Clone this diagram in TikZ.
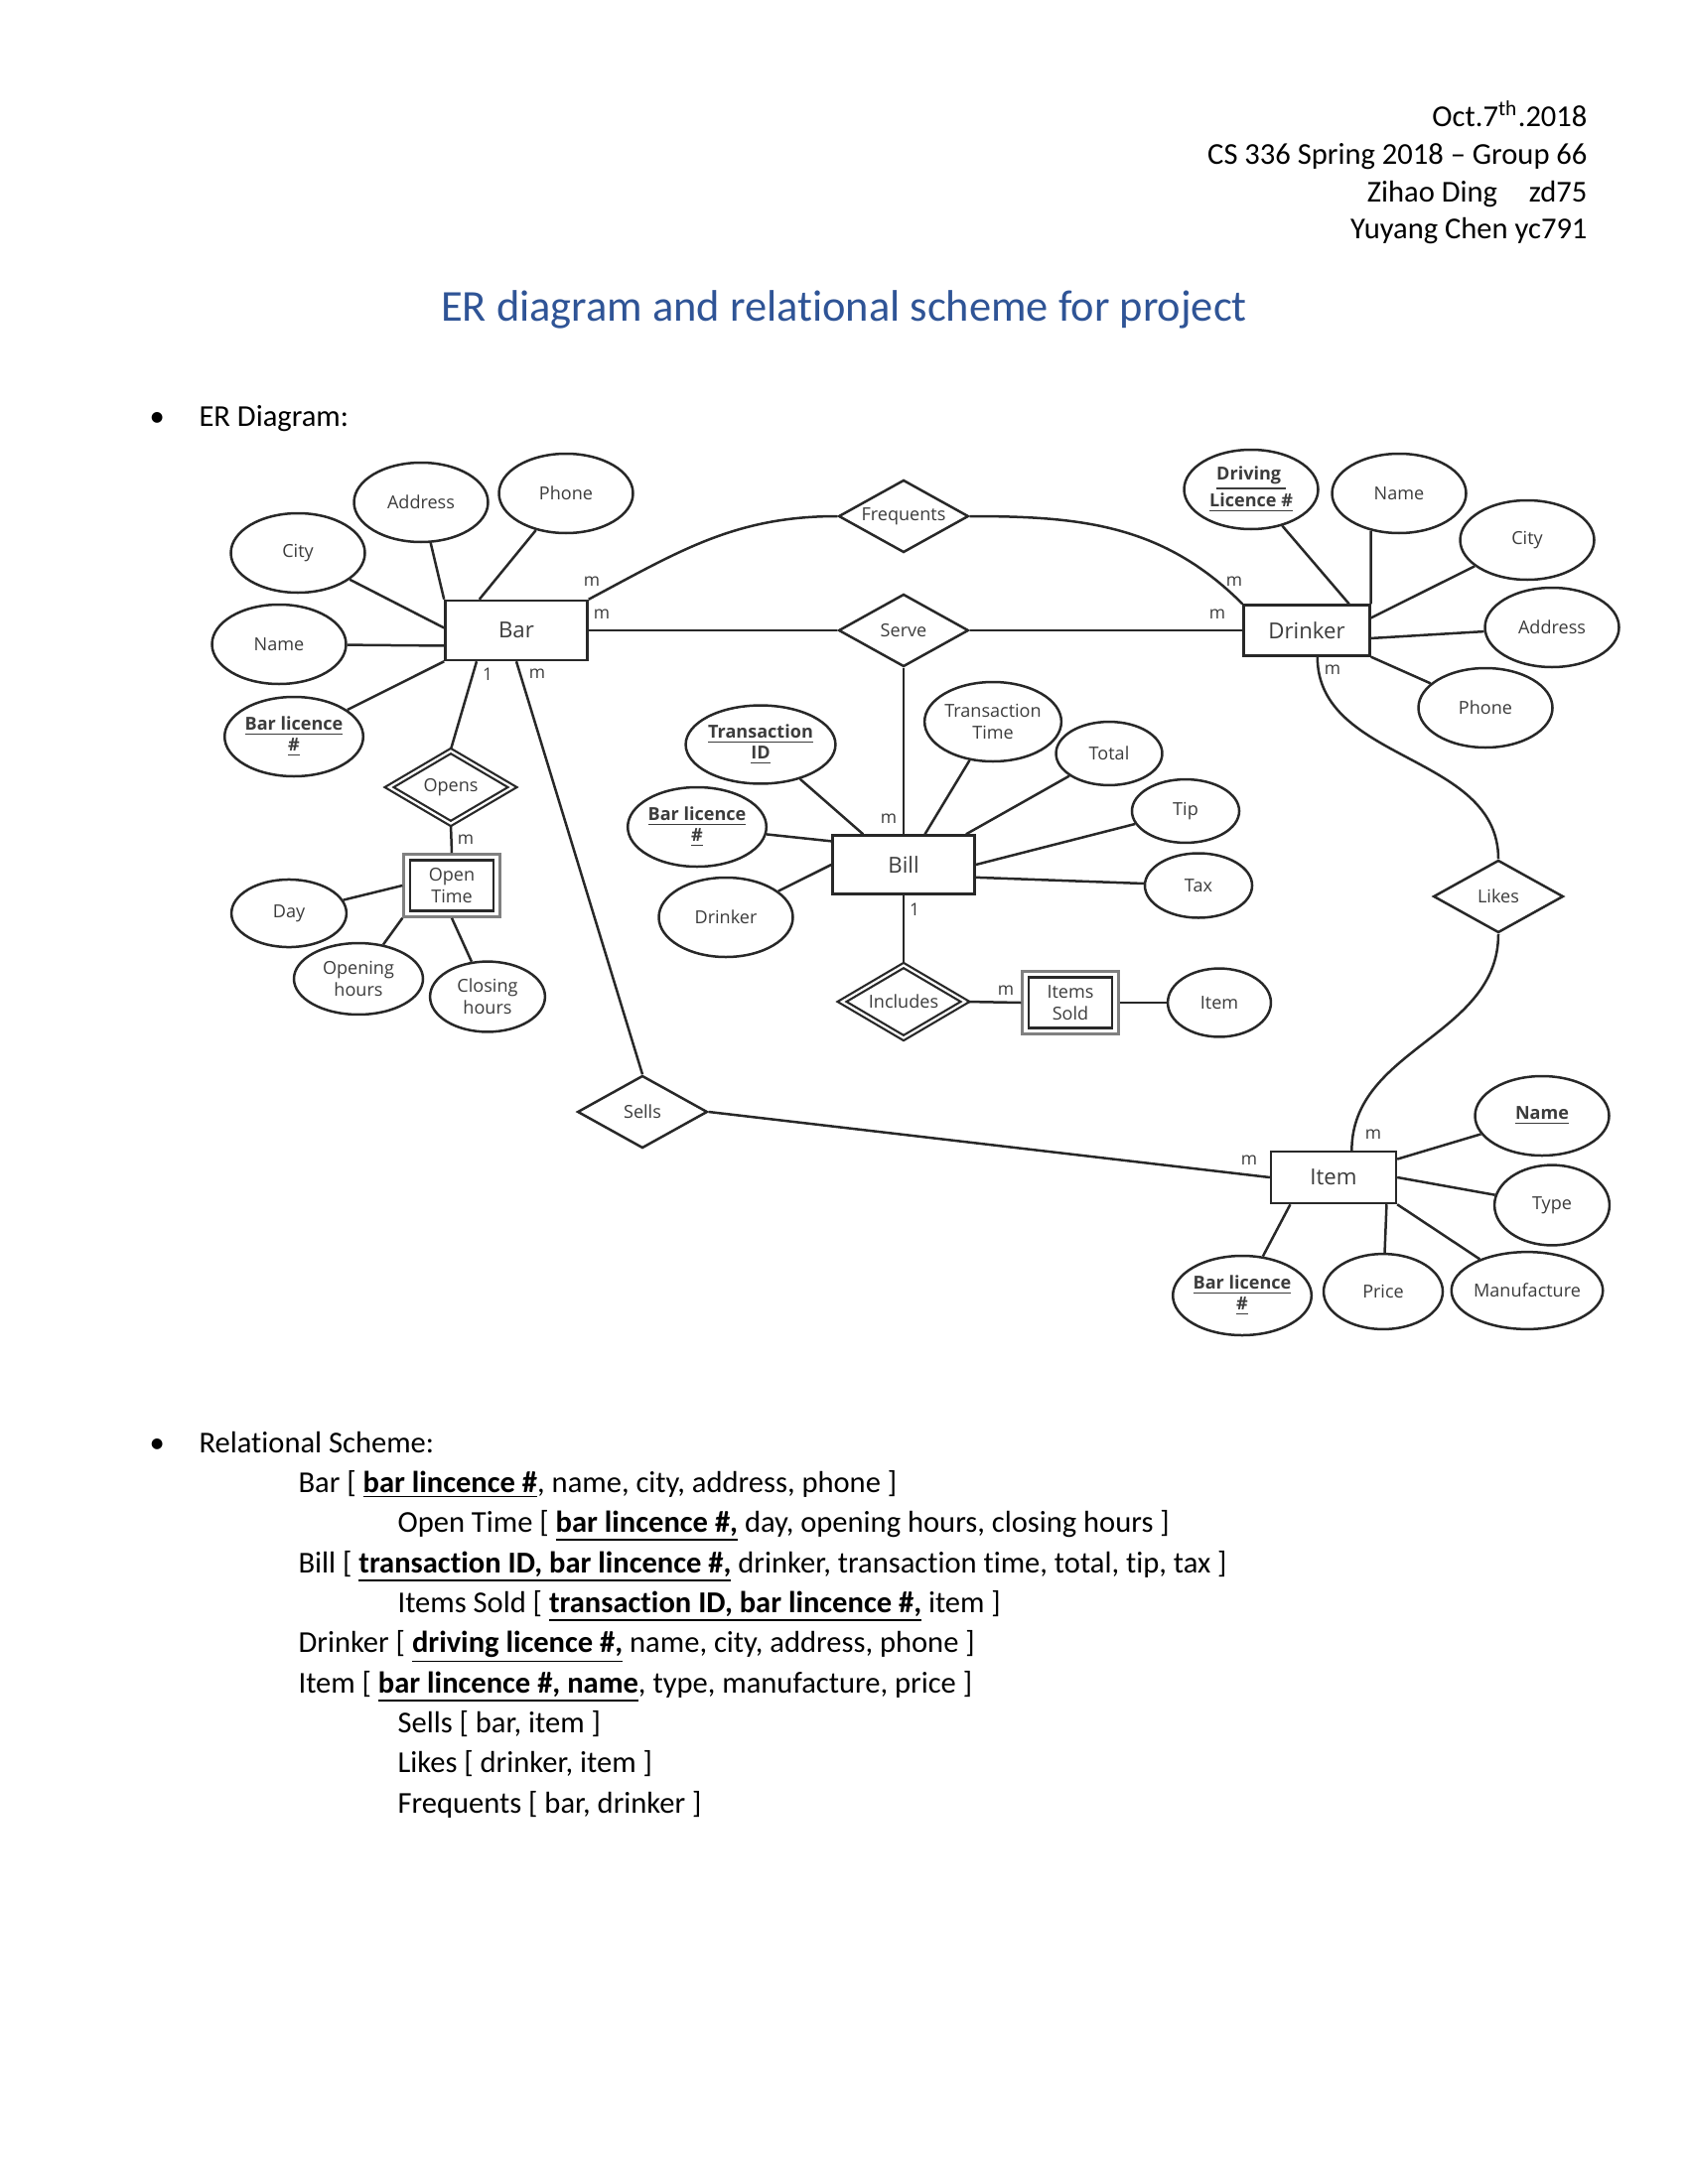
\documentclass[tikz,border=0pt]{standalone}
\usepackage{fontspec}
\setmainfont{Carlito}[Ligatures={TeX,NoCommon,NoContextual}, RawFeature={-liga;-clig;-calt;-dlig}]
\newfontfamily\diafont{Open Sans}
\usepackage{tikz}
\usetikzlibrary{positioning,shapes.geometric,fit}
\usepackage{xcolor}
\definecolor{headblue}{RGB}{47,84,150}
\definecolor{linegray}{RGB}{40,40,40}
\definecolor{txtgray}{RGB}{60,60,60}
\newcommand{\diasize}{\diafont\fontsize{6.5}{7.8}\selectfont}
\tikzset{
  ent/.style    ={rectangle, draw=linegray, line width=0.9pt, text=txtgray,
                  font=\diafont\fontsize{8}{9.6}\selectfont, inner sep=1pt,
                  minimum width=51.5pt, minimum height=21.6pt},
  weakent/.style={ent, font=\diasize, align=center,
                  minimum width=30.4pt, minimum height=18.2pt},
  weakbox/.style={rectangle, draw=black!50, line width=0.9pt, inner sep=1.8pt},
  rel/.style    ={diamond, aspect=1.8, draw=linegray, line width=0.9pt, text=txtgray,
                  font=\diasize, inner sep=0pt, minimum width=47.1pt, minimum height=26.3pt},
  weakrel/.style={rel, double=white, double distance=0.8pt, line width=0.8pt,
                  minimum width=45pt, minimum height=26.6pt},
  attr/.style   ={ellipse, draw=linegray, line width=0.9pt, text=txtgray, font=\diasize,
                  align=center, inner sep=0pt, minimum width=48.6pt, minimum height=28.8pt},
  keyattr/.style={attr, font=\diasize\bfseries},
  link/.style   ={draw=linegray, line width=0.9pt},
  card/.style   ={text=txtgray, font=\diafont\fontsize{6.3}{7}\selectfont, inner sep=0pt},
  hdr/.style    ={anchor=base east, inner sep=0pt, font=\fontsize{11}{13.2}\selectfont},
  body/.style   ={anchor=base west, inner sep=0pt, font=\fontsize{11}{13.2}\selectfont},
}

\begin{document}
\begin{tikzpicture}[x=0.36pt, y=-0.36pt]
  \fill[white] (0,0) rectangle (1700,2200);
  \useasboundingbox (0,0) rectangle (1700,2200);

  % heading
  \node[hdr] (date)   at (1599,128) {Oct.7\textsuperscript{th}.2018};
  \node[hdr] (course) at (1599,166) {CS 336 Spring 2018 -- Group 66};
  \node[hdr] (who1)   at (1599,204) {Zihao Ding\hspace{11.5pt}zd75};
  \node[hdr] (who2)   at (1599,241) {Yuyang Chen yc791};
  \node[anchor=base, inner sep=0pt, text=headblue, font=\fontsize{16}{19}\selectfont]
       (title) at (850,324) {ER diagram and relational scheme for project};
  \node[body] (bul1)   at (150,429) {\textbullet};
  \node[body] (erhead) at (200,429) {ER Diagram:};

  % entities
  \node[ent] (bar) at (520,635) {Bar};
  \node[ent, minimum width=45.7pt, minimum height=18.3pt] (drinker) at (1316,635) {Drinker};
  \node[ent, minimum height=21.2pt] (bill) at (910,871) {Bill};
  \node[ent, minimum width=45.3pt, minimum height=18.7pt] (item) at (1343,1186) {Item};
  \node[weakent] (otime) at (455,892) {Open\\Time};
  \node[weakbox, fit=(otime)] (otbox) {};
  \node[weakent] (isold) at (1078,1010) {Items\\Sold};
  \node[weakbox, fit=(isold)] (isbox) {};

  % relationships
  \node[rel] (freq)  at (910,520)  {Frequents};
  \node[rel] (serve) at (910,635)  {Serve};
  \node[rel] (sells) at (647,1120) {Sells};
  \node[rel] (likes) at (1509,903) {Likes};
  \node[weakrel] (opens) at (454,793)  {Opens};
  \node[weakrel] (incl)  at (910,1009) {Includes};

  % bar attributes
  \node[attr] (addr)  at (424,506) {Address};
  \node[attr] (phone) at (570,497) {Phone};
  \node[attr] (city)  at (300,557) {City};
  \node[attr] (name)  at (281,649) {Name};
  \node[keyattr] (barlic) at (296,742) {\underline{Bar licence}\\\underline{\#}};

  % open time attributes
  \node[attr, minimum width=41.7pt, minimum height=24.5pt] (day)    at (291,920)  {Day};
  \node[attr, minimum width=46.8pt, minimum height=25.9pt] (openh)  at (361,986)  {Opening\\hours};
  \node[attr, minimum width=41.7pt, minimum height=25.5pt] (closeh) at (491,1004) {Closing\\hours};

  % bill attributes
  \node[keyattr, minimum width=54.3pt, minimum height=28.4pt] (tid) at (766,750) {\underline{Transaction}\\\underline{ID}};
  \node[attr] (ttime) at (1000,727) {Transaction\\Time};
  \node[attr, minimum width=38.5pt, minimum height=23pt]   (total) at (1117,759) {Total};
  \node[attr, minimum width=38.9pt, minimum height=23pt]   (tip)   at (1194,817) {Tip};
  \node[attr, minimum width=38.9pt, minimum height=23.4pt] (tax)   at (1207,892) {Tax};
  \node[keyattr] (blic)  at (702,833) {\underline{Bar licence}\\\underline{\#}};
  \node[attr]    (bdrink) at (731,924) {Drinker};
  \node[attr, minimum width=37.4pt, minimum height=24.8pt] (isitem) at (1228,1010) {Item};

  % drinker attributes
  \node[keyattr] (dlic)   at (1260,493) {\underline{Driving }\\\underline{Licence \#}};
  \node[attr]    (dname)  at (1409,497) {Name};
  \node[attr]    (dcity)  at (1538,544) {City};
  \node[attr]    (daddr)  at (1563,632) {Address};
  \node[attr]    (dphone) at (1496,713) {Phone};

  % item attributes
  \node[keyattr] (iname) at (1553,1124) {\underline{Name}};
  \node[attr, minimum width=41.7pt, minimum height=29.1pt] (itype)  at (1563,1214) {Type};
  \node[attr, minimum width=52.5pt, minimum height=28pt]   (imanu)  at (1538,1300) {Manufacture};
  \node[attr, minimum width=43.2pt, minimum height=27.3pt] (iprice) at (1393,1301) {Price};
  \node[keyattr] (ilic) at (1251,1305) {\underline{Bar licence}\\\underline{\#}};

  % attribute links
  \draw[link] (addr) -- (bar.north west);
  \draw[link] (phone) -- (bar.140);
  \draw[link] (city) -- (bar.178);
  \draw[link] (name) -- (bar.192);
  \draw[link] (barlic) -- (bar.south west);
  \draw[link] (day) -- (otbox.west);
  \draw[link] (openh) -- (otbox.south west);
  \draw[link] (closeh) -- (otbox.south);
  \draw[link] (tid) -- (bill.143);
  \draw[link] (blic) -- (bill.162);
  \draw[link] (bdrink) -- (bill.west);
  \draw[link] (ttime) -- (bill.55);
  \draw[link] (total) -- (bill.26);
  \draw[link] (tip) -- (bill.east);
  \draw[link] (tax) -- (bill.350);
  \draw[link] (dlic) -- (drinker.32);
  \draw[link] (dname.233) -- (drinker.north east);
  \draw[link] (dcity) -- (drinker.11);
  \draw[link] (daddr) -- (drinker.353);
  \draw[link] (dphone) -- (drinker.south east);
  \draw[link] (iname) -- (item.16);
  \draw[link] (itype) -- (item.east);
  \draw[link] (imanu) -- (item.south east);
  \draw[link] (iprice) -- (item.333);
  \draw[link] (ilic) -- (item.212);

  % relationship links
  \draw[link] (bar.north east) to[out=28, in=180] (freq.west);
  \draw[link] (freq.east) to[out=0, in=135] (drinker.north west);
  \draw[link] (bar.east) -- (serve.west);
  \draw[link] (serve.east) -- (drinker.west);
  \draw[link] (serve.south) -- (bill.north);
  \draw[link] (bar.218) -- (opens.north);
  \draw[link] (opens.south) -- (otbox.north);
  \draw[link] (bar.south) -- (sells.north);
  \draw[link] (sells.east) -- (item.west);
  \draw[link] (drinker.292) to[out=270, in=90] (likes.north);
  \draw[link] (likes.south) to[out=270, in=90] (item.56);
  \draw[link] (bill.south) -- (incl.north);
  \draw[link] (incl.east) -- (isbox.west);
  \draw[link] (isbox.east) -- (isitem);

  % cardinalities
  \node[card] (cBarOpens)   at (491,679)  {1};
  \node[card] (cBarSells)   at (541,679)  {m};
  \node[card] (cBarFreq)    at (596,586)  {m};
  \node[card] (cBarServe)   at (606,619)  {m};
  \node[card] (cOpenTime)   at (469,846)  {m};
  \node[card] (cDrkFreq)    at (1243,586) {m};
  \node[card] (cDrkServe)   at (1226,619) {m};
  \node[card] (cDrkLikes)   at (1342,675) {m};
  \node[card] (cServeBill)  at (895,825)  {m};
  \node[card] (cBillIncl)   at (921,916)  {1};
  \node[card] (cInclSold)   at (1013,998) {m};
  \node[card] (cItemSells)  at (1258,1169) {m};
  \node[card] (cItemLikes)  at (1383,1143) {m};

  % relational scheme
  \node[body] (bul2)      at (150,1463) {\textbullet};
  \node[body] (rshead)    at (200,1463) {Relational Scheme:};
  \node[body] (rsBar)     at (300,1503) {Bar [ \underline{\textbf{bar lincence \#}}, name, city, address, phone ]};
  \node[body] (rsOpen)    at (400,1543) {Open Time [ \underline{\textbf{bar lincence \#,}} day, opening hours, closing hours ]};
  \node[body] (rsBill)    at (300,1584) {Bill [ \underline{\textbf{transaction ID, bar lincence \#,}} drinker, transaction time, total, tip, tax ]};
  \node[body] (rsSold)    at (400,1624) {Items Sold [ \underline{\textbf{transaction ID, bar lincence \#,}} item ]};
  \node[body] (rsDrinker) at (300,1664) {Drinker [ \underline{\textbf{driving licence \#,}} name, city, address, phone ]};
  \node[body] (rsItem)    at (300,1705) {Item [ \underline{\textbf{bar lincence \#, name}}, type, manufacture, price ]};
  \node[body] (rsSells)   at (400,1745) {Sells [ bar, item ]};
  \node[body] (rsLikes)   at (400,1785) {Likes [ drinker, item ]};
  \node[body] (rsFreq)    at (400,1826) {Frequents [ bar, drinker ]};
\end{tikzpicture}
\end{document}
